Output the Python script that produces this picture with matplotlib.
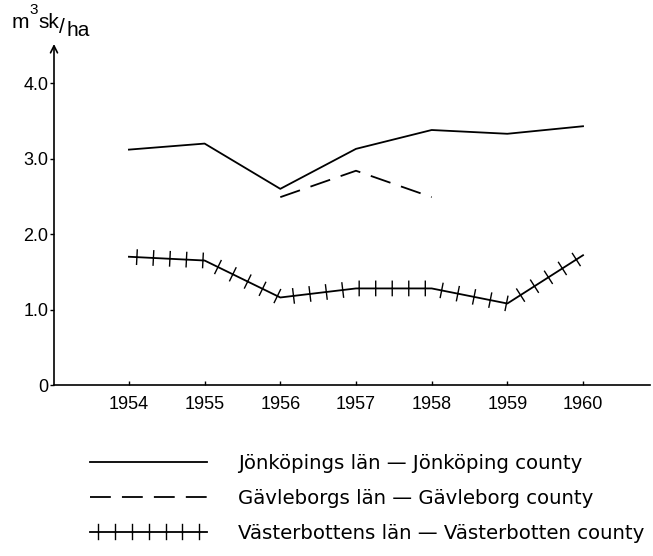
import matplotlib
matplotlib.use("Agg")
import matplotlib.pyplot as plt
import matplotlib.patheffects as pe

years = [1954, 1955, 1956, 1957, 1958, 1959, 1960]
jonkoping = [3.12, 3.20, 2.60, 3.13, 3.38, 3.33, 3.43]
gavle_years = [1956, 1957, 1958]
gavleborg = [2.49, 2.84, 2.49]
vasterbotten = [1.70, 1.65, 1.16, 1.28, 1.28, 1.08, 1.72]
ytick_vals = [0, 1, 2, 3, 4]
ytick_labels = ["0", "1.0", "2.0", "3.0", "4.0"]
labels = ["Jönköpings län — Jönköping county",
          "Gävleborgs län — Gävleborg county",
          "Västerbottens län — Västerbotten county"]

plt.rcParams['font.family'] = ['Liberation Sans', 'DejaVu Sans']
plt.rcParams['lines.scale_dashes'] = False

fig = plt.figure(figsize=(6.53, 5.56), dpi=100)
ax = fig.add_axes([54/653, 1-385/556, (650-54)/653, (385-44)/556])

lw = 1.3
ax.plot(years, jonkoping, color='black', lw=lw, label=labels[0])
ax.plot(gavle_years, gavleborg, color='black', lw=lw, dashes=(15, 8), label=labels[1])
vline, = ax.plot(years, vasterbotten, color='black', lw=lw, label=labels[2])
vline.set_path_effects([
    pe.Stroke(),
    pe.TickedStroke(spacing=11.5, angle=90, length=0.45, linewidth=1.0),
    pe.TickedStroke(spacing=11.5, angle=-90, length=0.45, linewidth=1.0),
])

ax.set_xlim(1953.01, 1960.885)
ax.set_ylim(0, 4.52)
ax.set_xticks(years)
ax.set_xticklabels([str(y) for y in years])
ax.set_yticks(ytick_vals)
ax.set_yticklabels(ytick_labels)

for s in ['top', 'right', 'left']:
    ax.spines[s].set_visible(False)
ax.spines['bottom'].set_linewidth(1.2)
ax.annotate('', xy=(0, 1.0), xycoords='axes fraction', xytext=(0, 0),
            textcoords='axes fraction',
            arrowprops=dict(arrowstyle='->,head_length=0.5,head_width=0.25',
                            lw=1.2, color='black', shrinkA=0, shrinkB=0))

ax.tick_params(axis='x', direction='in', length=3, width=1, pad=8, labelsize=13)
ax.tick_params(axis='y', direction='out', length=3, width=1, pad=1, labelsize=13)

fig.text(12/653, 1-28/556, "m", fontsize=15, va='baseline')
fig.text(29/653, 1-14/556, "3", fontsize=11, va='baseline')
fig.text(38/653, 1-28/556, "sk", fontsize=15, va='baseline')
fig.text(59/653, 1-33/556, "/", fontsize=15, va='baseline')
fig.text(66/653, 1-36/556, "ha", fontsize=15, va='baseline')

leg = ax.legend(loc='upper left', bbox_to_anchor=(90/653, 1-454/556),
                bbox_transform=fig.transFigure, frameon=False,
                prop={'family': ['DejaVu Sans'], 'size': 14.2},
                handlelength=5.95, handletextpad=1.55, labelspacing=0.8,
                borderaxespad=0, borderpad=0)

fig.savefig("out.png", dpi=100)
